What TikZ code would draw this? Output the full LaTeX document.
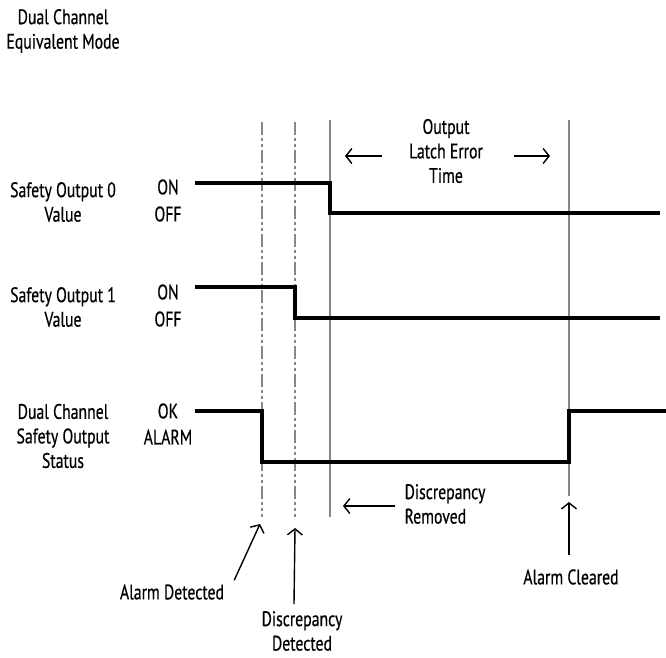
\documentclass[tikz,border=0pt]{standalone}
\usepackage{fontspec}
\setmainfont[FakeStretch=0.75,FakeBold=0.5]{PT Sans}
\usetikzlibrary{arrows.meta}
\definecolor{Ink}{HTML}{000000}
\definecolor{Guide}{HTML}{878787}
\tikzset{
  signal/.style={line width=3.2pt,draw=Ink,line join=miter},
  guide/.style={line width=2.6pt,draw=Guide},
  guidedash/.style={guide,dash pattern=on 13pt off 3pt on 3pt off 3pt on 3pt off 3pt},
  label/.style={align=center,font=\fontsize{21}{24.5}\selectfont,inner sep=0pt,text=Ink},
  pointer/.style={-{Straight Barb[length=6pt,width=15pt]},line width=1.4pt,draw=Ink}
}

\begin{document}
\begin{tikzpicture}[x=1pt,y=-1pt]
\useasboundingbox (0,0) rectangle (666,657);
% title
\node[label] (title) at (63,31) {Dual Channel\\Equivalent Mode};
% row labels
\node[label] (so0) at (63,202) {Safety Output 0\\Value};
\node[label] (so0on) at (168,187) {ON};
\node[label] (so0off) at (168,214) {OFF};
\node[label] (so1) at (63,307) {Safety Output 1\\Value};
\node[label] (so1on) at (168,292) {ON};
\node[label] (so1off) at (168,319) {OFF};
\node[label] (dc) at (63,436) {Dual Channel\\Safety Output\\Status};
\node[label] (dcok) at (168,411) {OK};
\node[label] (dcalarm) at (168,437) {ALARM};
% guide lines
\draw[guidedash] (262,122) -- (262,517);
\draw[guidedash] (295,122) -- (295,517);
\draw[guide] (330,120) -- (330,517);
\draw[guide] (569,120) -- (569,496);
% signals
\draw[signal] (195,183) -- (330,183) -- (330,213) -- (660,213);
\draw[signal] (195,287) -- (295,287) -- (295,318) -- (660,318);
\draw[signal] (195,411) -- (262,411) -- (262,462) -- (569,462) -- (569,411) -- (666,411);
% latch time
\node[label] (latch) at (446,151) {Output\\Latch Error\\Time};
\coordinate (latchL) at (345,156);
\coordinate (latchR) at (550,156);
\draw[pointer] ([xshift=-27pt,yshift=-5pt]latch.west) -- (latchL);
\draw[pointer] ([xshift=31pt,yshift=-5pt]latch.east) -- (latchR);
% event labels
\node[label,align=left] (disrem) at (445,504) {Discrepancy\\Removed};
\node[label] (alarmdet) at (172,592) {Alarm Detected};
\node[label] (discdet) at (302,631) {Discrepancy\\Detected};
\node[label] (alarmclr) at (571,577) {Alarm Cleared};
\coordinate (remTip) at (343,506);
\coordinate (detTip) at (260,524);
\coordinate (discTip) at (295,528);
\coordinate (clrTip) at (569,502);
\draw[pointer] ([xshift=-9pt,yshift=-2pt]disrem.west) -- (remTip);
\draw[pointer] ([xshift=10pt,yshift=4pt]alarmdet.north east) -- (detTip);
\draw[pointer] ([xshift=-8pt,yshift=7pt]discdet.north) -- (discTip);
\draw[pointer] ([xshift=-2pt,yshift=14pt]alarmclr.north) -- (clrTip);
\end{tikzpicture}
\end{document}
